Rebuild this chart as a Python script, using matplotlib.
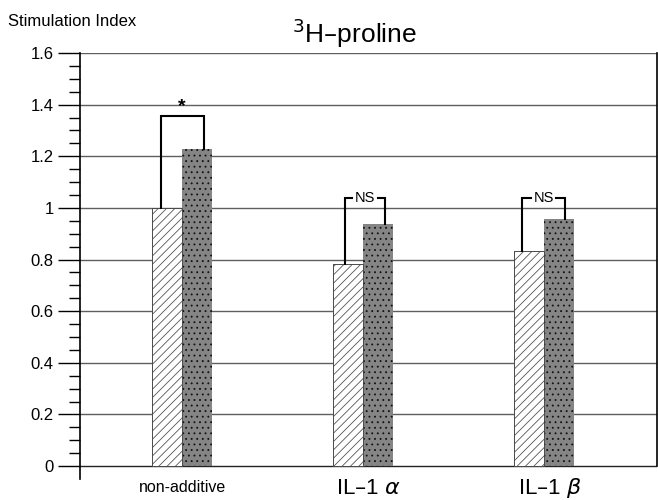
import numpy as np
import matplotlib
matplotlib.use('Agg')
import matplotlib.pyplot as plt
import matplotlib.transforms as mtransforms
from matplotlib.ticker import FixedLocator

# data
groups = ['non-additive', 'IL\u20131 $\\alpha$', 'IL\u20131 $\\beta$']
control = [1.0, 0.783, 0.833]       # hatched bars
treated = [1.229, 0.938, 0.957]     # dotted bars
sig_labels = ['*', 'NS', 'NS']
bracket_tops = [1.355, 1.04, 1.04]
y_ticks = [0, 0.2, 0.4, 0.6, 0.8, 1.0, 1.2, 1.4, 1.6]
y_tick_labels = ['0', '0.2', '0.4', '0.6', '0.8', '1', '1.2', '1.4', '1.6']


def main():
    plt.rcParams['font.family'] = ['Liberation Sans', 'DejaVu Sans']
    plt.rcParams['mathtext.fontset'] = 'dejavusans'
    plt.rcParams['hatch.linewidth'] = 0.6

    fig = plt.figure(figsize=(6.58, 5.0), dpi=100)
    ax = fig.add_axes([0.1216, 0.042, 0.8769, 0.852])

    x = np.arange(len(groups))
    w = 0.166

    # hatched bars (left of each pair)
    ax.bar(x - w / 2, control, width=w, color='white', edgecolor='#555555',
           hatch='////', linewidth=0.5, zorder=3)
    # dotted grey bars (right of each pair)
    ax.bar(x + w / 2, treated, width=w, color='#858585', edgecolor='#111111',
           hatch='...', linewidth=0, zorder=3)
    ax.bar(x - w / 2, control, width=w, color='none', edgecolor='#444444',
           linewidth=0.6, zorder=4)

    # significance brackets
    offs = [(-0.12, 0.12), (-0.10, 0.12), (-0.12, 0.115)]
    for i in range(len(groups)):
        xl = x[i] + offs[i][0]
        xr = x[i] + offs[i][1]
        top = bracket_tops[i]
        if sig_labels[i] == '*':
            ax.plot([xl, xl, xr, xr], [control[i], top, top, treated[i]],
                    color='black', lw=1.5, zorder=5, solid_joinstyle='miter')
            ax.text((xl + xr) / 2, top + 0.003, '*', ha='center', va='bottom',
                    fontsize=14, fontweight='bold')
        else:
            mid = (xl + xr) / 2
            gap = 0.07
            ax.plot([xl, xl, mid - gap], [control[i], top, top],
                    color='black', lw=1.5, zorder=5, solid_joinstyle='miter')
            ax.plot([mid + gap, xr, xr], [top, top, treated[i]],
                    color='black', lw=1.5, zorder=5, solid_joinstyle='miter')
            ax.text(mid, top, sig_labels[i], ha='center', va='center',
                    fontsize=10.5)

    ax.set_xlim(-0.565, 2.625)
    ax.set_ylim(-0.05, 1.6)

    # gridlines at the major ticks
    for yv in y_ticks:
        ax.axhline(yv, color='#222222' if yv == 0 else '#5e5e5e',
                   lw=1.0, zorder=1)

    ax.yaxis.set_major_locator(FixedLocator(y_ticks))
    ax.set_yticklabels(y_tick_labels, fontsize=12)
    ax.yaxis.set_minor_locator(FixedLocator(np.arange(0.05, 1.6, 0.05)))
    ax.tick_params(axis='y', which='major', length=16, width=1.0, pad=3)
    ax.tick_params(axis='y', which='minor', length=8, width=1.0)

    ax.set_xticks([])
    # category labels under the axes
    trans = mtransforms.blended_transform_factory(ax.transData, fig.transFigure)
    sizes = [11.5, 16, 16]
    shifts = [0, 0.03, 0.03]
    for i in range(len(groups)):
        ax.text(x[i] + shifts[i], 0.024, groups[i], transform=trans,
                ha='center', va='center', fontsize=sizes[i])

    ax.spines['top'].set_visible(False)
    ax.spines['bottom'].set_visible(False)
    ax.spines['left'].set_linewidth(1.2)
    ax.spines['right'].set_linewidth(1.2)
    ax.spines['right'].set_bounds(0, 1.6)

    fig.text(0.012, 0.958, 'Stimulation Index', fontsize=12, va='center')
    fig.text(0.538, 0.934, '$^{3}$H\u2013proline', fontsize=19, ha='center',
             va='center')

    fig.savefig('out.png', dpi=100)
    plt.close(fig)


if __name__ == "__main__":
    main()
